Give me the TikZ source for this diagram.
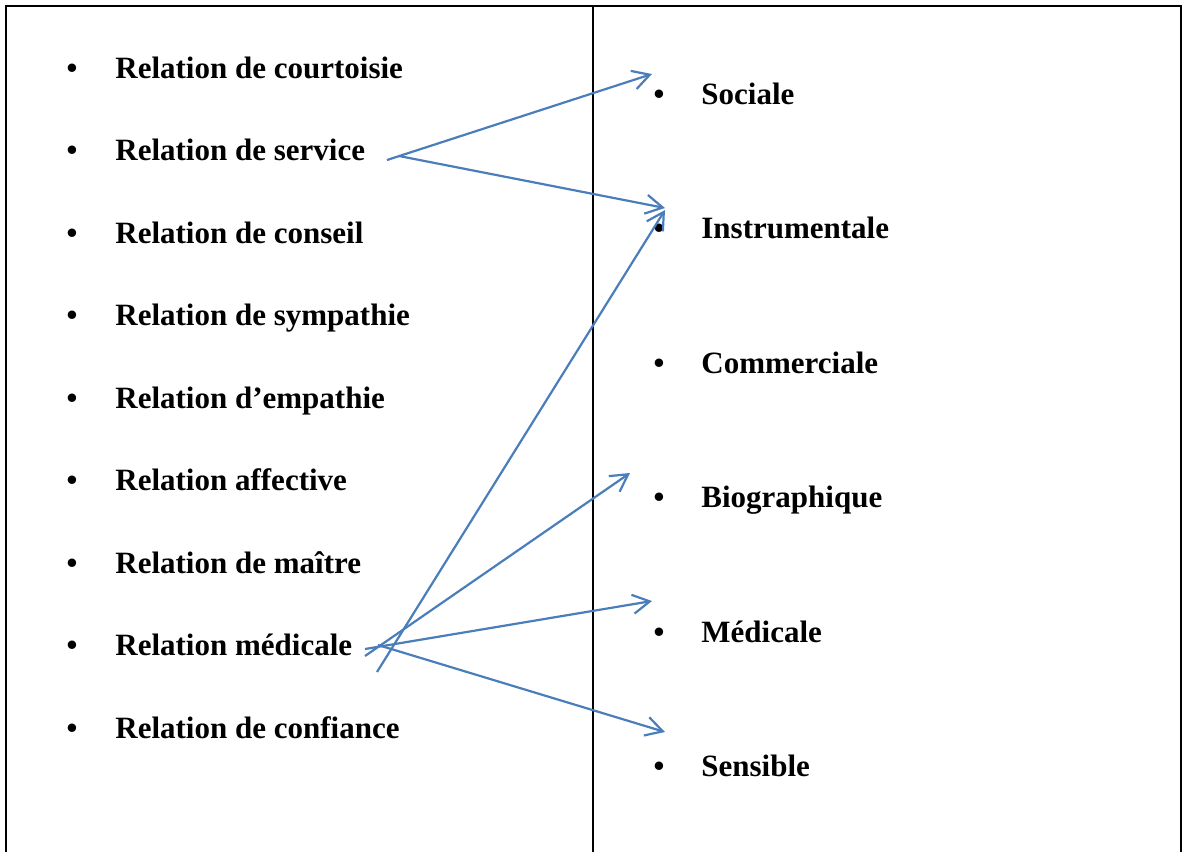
\documentclass[tikz,border=0pt]{standalone}
\usepackage{fontspec}
\setmainfont{Liberation Serif}
\usetikzlibrary{arrows.meta}
\definecolor{fleche}{HTML}{4A7EBB}
\begin{document}
\begin{tikzpicture}[x=0.5pt,y=-0.5pt,
    puce/.style ={anchor=base, inner sep=0pt, font=\bfseries\fontsize{15.5}{18}\selectfont},
    entree/.style ={anchor=base west, inner sep=0pt, font=\bfseries\fontsize{15.5}{18}\selectfont},
    lien/.style ={draw=fleche, line width=1.1pt, -{Straight Barb[length=8.5pt,width=9.5pt]}}]
   \useasboundingbox (0,0) rectangle (1183,852);
   % cadre
   \draw[line width=1.3pt] (6,852) -- (6,6) -- (1181,6) -- (1181,852);
   \draw[line width=1.2pt] (593,6) -- (593,852);
   % colonne de gauche
   \node[puce] at (72,78)  {•};  \node[entree] (L1) at (115,78)  {Relation de courtoisie};
   \node[puce] at (72,160) {•};  \node[entree] (L2) at (115,160) {Relation de service};
   \node[puce] at (72,243) {•};  \node[entree] (L3) at (115,243) {Relation de conseil};
   \node[puce] at (72,325) {•};  \node[entree] (L4) at (115,325) {Relation de sympathie};
   \node[puce] at (72,408) {•};  \node[entree] (L5) at (115,408) {Relation d’empathie};
   \node[puce] at (72,490) {•};  \node[entree] (L6) at (115,490) {Relation affective};
   \node[puce] at (72,573) {•};  \node[entree] (L7) at (115,573) {Relation de maître};
   \node[puce] at (72,655) {•};  \node[entree] (L8) at (115,655) {Relation médicale};
   \node[puce] at (72,738) {•};  \node[entree] (L9) at (115,738) {Relation de confiance};
   % colonne de droite
   \node[puce] at (659,104) {•};  \node[entree] (R1) at (701,104) {Sociale};
   \node[puce] at (659,238) {•};  \node[entree] (R2) at (701,238) {Instrumentale};
   \node[puce] at (659,373) {•};  \node[entree] (R3) at (701,373) {Commerciale};
   \node[puce] at (659,507) {•};  \node[entree] (R4) at (701,507) {Biographique};
   \node[puce] at (659,642) {•};  \node[entree] (R5) at (701,642) {Médicale};
   \node[puce] at (659,776) {•};  \node[entree] (R6) at (701,776) {Sensible};
   % extremites des fleches
   \coordinate (S1) at (387,160);
   \coordinate (S2) at (399,156);
   \coordinate (M1) at (377,672);
   \coordinate (M2) at (365,656);
   \coordinate (M3) at (365,649);
   \coordinate (M4) at (378,645);
   \coordinate (T1) at (652,74);
   \coordinate (T2) at (665,208);
   \coordinate (T3) at (665,210);
   \coordinate (T4) at (630,473);
   \coordinate (T5) at (652,601);
   \coordinate (T6) at (665,732);
   \draw[lien] (S1) to (T1);
   \draw[lien] (S2) to (T2);
   \draw[lien] (M1) to (T3);
   \draw[lien] (M2) to (T4);
   \draw[lien] (M3) to (T5);
   \draw[lien] (M4) to (T6);
\end{tikzpicture}
\end{document}
